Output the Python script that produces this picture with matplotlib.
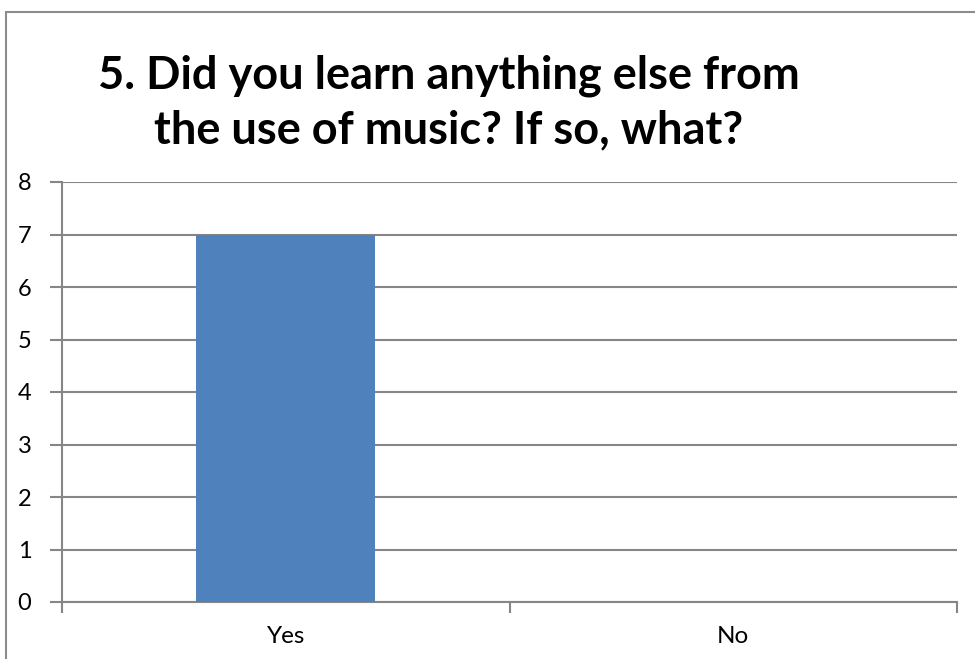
import matplotlib
matplotlib.use("Agg")
import matplotlib.pyplot as plt
from matplotlib.patches import Rectangle

categories = ["Yes", "No"]
values = [7, 0]
yticks = [0, 1, 2, 3, 4, 5, 6, 7, 8]
title = "5. Did you learn anything else from\nthe use of music? If so, what?"

W, H = 975, 659
fig = plt.figure(figsize=(W / 100, H / 100), dpi=100)
fig.patch.set_facecolor("white")

# outer chart border (left/top visible)
fig.patches.append(Rectangle((6 / W, -0.05), 1.1, (H - 12) / H + 0.05, transform=fig.transFigure,
                             fill=False, edgecolor="#8c8c8c", linewidth=1.5, zorder=0))

left, right, top, bottom = 62, 957, 182, 602
ax = fig.add_axes([left / W, 1 - bottom / H, (right - left) / W, (bottom - top) / H])

x = list(range(len(categories)))
ax.bar(x, values, width=0.4, color="#4F81BD", zorder=3)
ax.set_xlim(-0.5, len(categories) - 0.5)
ax.set_ylim(0, 8)
ax.set_yticks(yticks)
ax.set_yticklabels([str(v) for v in yticks], fontsize=17, family="Lato")
ax.yaxis.grid(True, color="#868686", linewidth=1.5, zorder=0)
ax.set_axisbelow(True)

ax.set_xticks([i - 0.5 for i in range(len(categories) + 1)])
ax.set_xticklabels([])
ax.set_xticks(x, minor=True)
ax.set_xticklabels(categories, minor=True, fontsize=17.5, family="Lato")
ax.tick_params(axis="x", which="major", direction="out", length=8, width=1.5, color="#868686")
ax.tick_params(axis="x", which="minor", length=0, pad=17)
ax.tick_params(axis="y", direction="out", length=9, width=1.5, color="#868686", pad=13)

for s in ["top", "right"]:
    ax.spines[s].set_visible(False)
for s in ["left", "bottom"]:
    ax.spines[s].set_color("#868686")
    ax.spines[s].set_linewidth(1.5)

fig.text(449 / W, 1 - 103 / H, title, ha="center", va="center", fontsize=32.5,
         fontweight="bold", family="Lato", linespacing=1.38)

fig.savefig("out.png", dpi=100)
